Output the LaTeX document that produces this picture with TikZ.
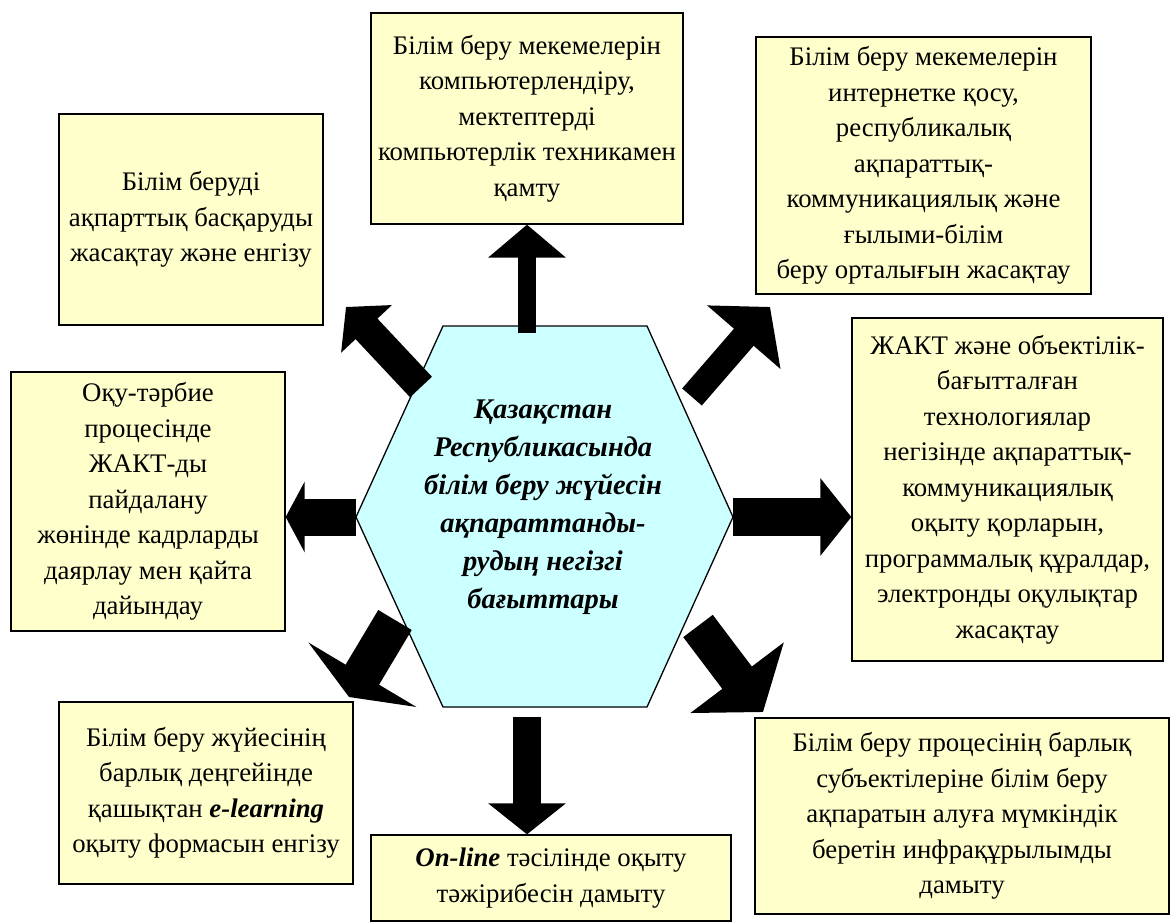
\documentclass[tikz,border=0pt]{standalone}
\usepackage{fontspec}
\setmainfont{Liberation Serif}
\usetikzlibrary{arrows.meta}
\definecolor{boxyellow}{HTML}{FFFFCC}
\definecolor{hexcyan}{HTML}{CCFFFF}
\tikzset{
  textbox/.style={draw=black,line width=1.3pt,fill=boxyellow,align=center,inner sep=0pt,font=\fontsize{26.8}{35.5}\selectfont},
  blockarr/.style n args={3}{line width=#1pt,line cap=butt,-{Triangle[width=#2pt,length=#3pt]}}
}

\begin{document}
\begin{tikzpicture}[x=1pt,y=-1pt]
\useasboundingbox (0,0) rectangle (1171,923);
% central hexagon
\draw[line width=1.3pt,fill=hexcyan] (443,326)--(647,326)--(733,517) coordinate (hE)--(647,707)--(443,707)--(356,517) coordinate (hW)--cycle;
\node[align=center,font=\fontsize{28.5}{38}\selectfont\bfseries\itshape] (hub) at (543,507) {Қазақстан\\Республикасында\\білім беру жүйесін\\ақпараттанды-\\рудың негізгі\\бағыттары};
% boxes round the hexagon
\node[textbox,minimum width=264pt,minimum height=211pt] (tl) at (191,219.5) {Білім беруді\\ақпарттық басқаруды\\жасақтау және енгізу};
\node[textbox,minimum width=312pt,minimum height=211pt] (tc) at (527,118.5) {Білім беру мекемелерін\\компьютерлендіру,\\мектептерді\\компьютерлік техникамен\\қамту};
\node[textbox,minimum width=335pt,minimum height=257pt] (tr) at (923.5,165.5) {Білім беру мекемелерін\\интернетке қосу,\\республикалық\\ақпараттық-\\коммуникациялық және\\ғылыми-білім\\беру орталығын жасақтау};
\node[textbox,minimum width=274pt,minimum height=259pt] (ml) at (148,501.5) {Оқу-тәрбие\\процесінде\\ЖАКТ-ды\\пайдалану\\жөнінде кадрларды\\даярлау мен қайта\\дайындау};
\node[textbox,minimum width=311pt,minimum height=343pt] (mr) at (1007.5,489.5) {ЖАКТ және объектілік-\\бағытталған\\технологиялар\\негізінде ақпараттық-\\коммуникациялық\\оқыту қорларын,\\программалық құралдар,\\электронды оқулықтар\\жасақтау};
\node[textbox,minimum width=294pt,minimum height=182pt] (bl) at (206,793) {Білім беру жүйесінің\\барлық деңгейінде\\қашықтан \textbf{\textit{e-learning}}\\оқыту формасын енгізу};
\node[textbox,minimum width=360pt,minimum height=86pt] (bc) at (551,878) {\textbf{\textit{On-line}} тәсілінде оқыту\\тәжірибесін дамыту};
\node[textbox,minimum width=414pt,minimum height=196pt] (br) at (962,816) {Білім беру процесінің барлық\\субъектілеріне білім беру\\ақпаратын алуға мүмкіндік\\беретін инфрақұрылымды\\дамыту};
% arrow ends
\coordinate (upS) at (527,333);
\coordinate (dnS) at (527,717);
\coordinate (ulS) at (421,387); \coordinate (ulT) at (346,307);
\coordinate (urS) at (692,397); \coordinate (urT) at (770,307);
\coordinate (dlS) at (395,620); \coordinate (dlT) at (349,697);
\coordinate (drS) at (698,626); \coordinate (drT) at (763,712);
\foreach \s/\e/\shaft/\headw/\headl in {upS/tc.south/18/76/33, dnS/tc.south |- bc.north/28/76/31, hW/ml.east |- hW/37/70/19, hE/mr.west |- hE/38/76/31, ulS/ulT/30/68/30, urS/urT/26/95/40, dlS/dlT/39/125/26, drS/drT/37/115/43}{\draw[blockarr={\shaft}{\headw}{\headl}] (\s)--(\e);}
\end{tikzpicture}
\end{document}
